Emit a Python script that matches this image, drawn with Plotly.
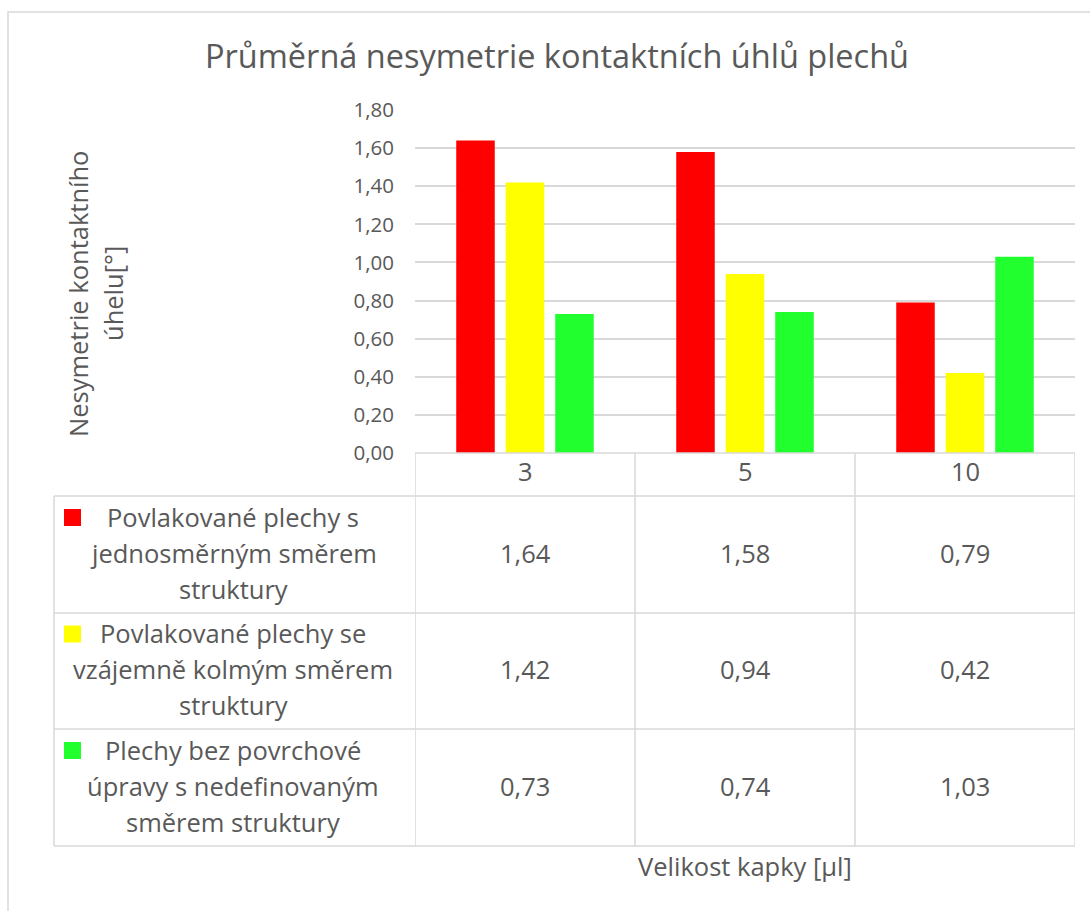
import plotly.graph_objects as go

# ---------------- data ----------------
categories = ["3", "5", "10"]
series_names = [
    ["Povlakované plechy s", "jednosměrným směrem", "struktury"],
    ["Povlakované plechy se", "vzájemně kolmým směrem", "struktury"],
    ["Plechy bez povrchové", "úpravy s nedefinovaným", "směrem struktury"],
]
series_values = [
    [1.64, 1.58, 0.79],
    [1.42, 0.94, 0.42],
    [0.73, 0.74, 1.03],
]
series_colors = ["#FF0000", "#FFFF00", "#21FF2E"]
y_ticks = [0.0, 0.2, 0.4, 0.6, 0.8, 1.0, 1.2, 1.4, 1.6, 1.8]
title_text = "Průměrná nesymetrie kontaktních úhlů plechů"
ytitle_lines = ["Nesymetrie kontaktního", "úhelu[°]"]
xtitle_text = "Velikost kapky [µl]"

# ---------------- layout helpers ----------------
W, H = 1090, 911
FONT = "Open Sans"
TXT = "#595959"
GRID = "#D9D9D9"
BODY = 25.5
TEXT_DY = -2  # small vertical nudge for text baselines


def px(x):
    return x / W


def py(y):
    return 1 - y / H


plot_left, plot_right = 415, 1075
plot_top, plot_bottom = 110, 453
table_left = 54
header_bottom = 496
row_bounds = [496, 613, 729, 846]

fig = go.Figure()
for name, vals, col in zip(series_names, series_values, series_colors):
    fig.add_trace(go.Bar(
        x=categories, y=vals, name=" ".join(name),
        marker=dict(color=col, line=dict(width=0)),
        showlegend=False, hoverinfo="x+y",
    ))

shapes = []
annotations = []
line_style = dict(color=GRID, width=1.5)

# chart border (top + left visible)
shapes.append(dict(type="rect", xref="paper", yref="paper",
                   x0=px(8), x1=1.05, y0=-0.05, y1=py(12),
                   line=dict(color=GRID, width=1.5), layer="below"))

# header row top (axis line)
shapes.append(dict(type="line", xref="x", yref="paper",
                   x0=-0.5, x1=len(categories) - 0.5, y0=py(plot_bottom), y1=py(plot_bottom),
                   line=line_style))
# horizontal row lines
for yb in row_bounds:
    shapes.append(dict(type="line", xref="paper", yref="paper",
                       x0=px(table_left), x1=px(plot_right), y0=py(yb), y1=py(yb),
                       line=line_style))
# vertical lines between categories
for i in range(len(categories) + 1):
    shapes.append(dict(type="line", xref="x", yref="paper",
                       x0=i - 0.5, x1=i - 0.5, y0=py(plot_bottom), y1=py(row_bounds[-1]),
                       line=line_style))
# legend column left edge
shapes.append(dict(type="line", xref="paper", yref="paper",
                   x0=px(table_left), x1=px(table_left), y0=py(row_bounds[0]), y1=py(row_bounds[-1]),
                   line=line_style))

# header category labels (category axis -> use index positions)
for i, cat in enumerate(categories):
    annotations.append(dict(x=i, y=py((plot_bottom + header_bottom) / 2 + TEXT_DY - 1), xref="x", yref="paper",
                            text=cat, showarrow=False, xanchor="center", yanchor="middle",
                            font=dict(family=FONT, size=BODY, color=TXT)))

# table rows
line_gap = 36
for r, (name, vals, col) in enumerate(zip(series_names, series_values, series_colors)):
    top, bot = row_bounds[r], row_bounds[r + 1]
    cy = (top + bot) / 2
    n = len(name)
    first_y = cy - (n - 1) / 2 * line_gap
    # legend key
    shapes.append(dict(type="rect", xref="paper", yref="paper",
                       x0=px(64), x1=px(81), y0=py(first_y - 1 - 8.5), y1=py(first_y - 1 + 8.5),
                       fillcolor=col, line=dict(width=0)))
    for k, ln in enumerate(name):
        annotations.append(dict(x=px(233), y=py(first_y + k * line_gap + TEXT_DY), xref="paper", yref="paper",
                                text=ln, showarrow=False, xanchor="center", yanchor="middle",
                                font=dict(family=FONT, size=BODY, color=TXT)))
    for i, v in enumerate(vals):
        annotations.append(dict(x=i, y=py(cy + TEXT_DY), xref="x", yref="paper",
                                text=f"{v:.2f}".replace(".", ","), showarrow=False,
                                xanchor="center", yanchor="middle",
                                font=dict(family=FONT, size=BODY, color=TXT)))

# title
annotations.append(dict(x=px(557), y=py(56), xref="paper", yref="paper", text=title_text,
                        showarrow=False, xanchor="center", yanchor="middle",
                        font=dict(family=FONT, size=32.5, color=TXT)))
# y title
for k, ln in enumerate(ytitle_lines):
    annotations.append(dict(x=px(78 + k * 35), y=py(294), xref="paper", yref="paper", text=ln,
                            showarrow=False, textangle=-90, xanchor="center", yanchor="middle",
                            font=dict(family=FONT, size=BODY, color=TXT)))
# x title
annotations.append(dict(x=px((plot_left + plot_right) / 2), y=py(868 + TEXT_DY), xref="paper", yref="paper",
                        text=xtitle_text, showarrow=False, xanchor="center", yanchor="middle",
                        font=dict(family=FONT, size=BODY, color=TXT)))

fig.update_layout(
    template="none",
    width=W, height=H,
    margin=dict(l=0, r=0, t=0, b=0, pad=0, autoexpand=False),
    paper_bgcolor="white", plot_bgcolor="white",
    barmode="group", bargap=0.325, bargroupgap=0.222,
    separators=", ",
    showlegend=False,
    font=dict(family=FONT, color=TXT),
    shapes=shapes, annotations=annotations,
    xaxis=dict(domain=[px(plot_left), px(plot_right)], type="category",
               range=[-0.5, len(categories) - 0.5], showticklabels=False, automargin=False,
               showgrid=False, zeroline=False, showline=False, ticks=""),
    yaxis=dict(domain=[py(plot_bottom), py(plot_top)], range=[0, 1.8], automargin=False,
               tickvals=y_ticks, tickformat=".2f", showgrid=True, gridcolor=GRID, gridwidth=1.5,
               zeroline=False, showline=False, ticks="", ticklabelstandoff=20,
               tickfont=dict(family=FONT, size=20.5, color=TXT)),
)

fig.write_html("out.html",
               config={"displayModeBar": False},
               post_script="document.body.style.margin='0';document.body.style.overflow='hidden';")
